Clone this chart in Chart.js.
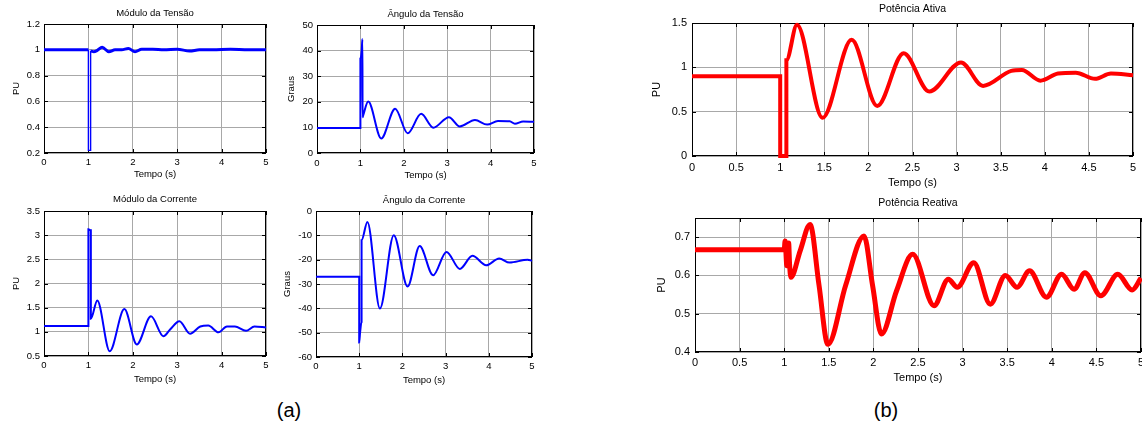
<!DOCTYPE html>
<html>
<head>
<meta charset="utf-8">
<script src="https://cdn.jsdelivr.net/npm/chart.js@4/dist/chart.umd.min.js"></script>
<style>
  html, body { margin:0; padding:0; background:#fff; overflow:hidden; }
  body { width:1142px; height:425px; position:relative; font-family:"Liberation Sans", Arial, sans-serif; }
  .caixa { position:absolute; }
  .rotulo { position:absolute; font-size:20px; color:#000; transform:translate(-50%,-50%); }
</style>
</head>
<body>
<div class="rotulo" style="left:289px;top:410px">(a)</div>
<div class="rotulo" style="left:886px;top:410px">(b)</div>
<script>
// ticks
const ticksXa = [0, 1, 2, 3, 4, 5];
const ticksXb = [0, 0.5, 1, 1.5, 2, 2.5, 3, 3.5, 4, 4.5, 5];
const ticksTensaoMod = [0.2, 0.4, 0.6, 0.8, 1, 1.2];
const ticksTensaoAng = [0, 10, 20, 30, 40, 50];
const ticksCorrenteMod = [0.5, 1, 1.5, 2, 2.5, 3, 3.5];
const ticksCorrenteAng = [-60, -50, -40, -30, -20, -10, 0];
const ticksAtiva = [0, 0.5, 1, 1.5];
const ticksReativa = [0.4, 0.5, 0.6, 0.7];

// dados (tempo em s)
const tTensaoMod = [0, 1.0, 1.0, 1.05, 1.05, 1.12, 1.2, 1.31, 1.46, 1.6, 1.75, 1.9, 2.05, 2.2, 2.45, 2.7, 3.0, 3.28, 3.5, 3.8, 4.2, 4.6, 5.0];
const vTensaoMod = [1.0, 1.0, 0.22, 0.22, 0.99, 0.985, 0.995, 1.02, 0.985, 1.0, 1.0, 1.01, 0.985, 1.005, 1.005, 1.0, 1.005, 0.99, 1.0, 1.0, 1.005, 1.0, 1.0];

const tTensaoAng = [0, 1.0, 1.0, 1.03, 1.046, 1.05, 1.06, 1.18, 1.48, 1.8, 2.09, 2.4, 2.68, 3.04, 3.29, 3.64, 3.92, 4.17, 4.44, 4.56, 4.75, 5.0];
const vTensaoAng = [9.8, 9.8, 36.8, 40, 44.5, 14, 14.5, 20.1, 5.7, 17.3, 7.7, 15.3, 9.9, 14, 10.4, 12.9, 11.1, 12.5, 12.4, 11.4, 12.3, 12.2];

const tCorrenteMod = [0, 1.0, 1.0, 1.055, 1.055, 1.2, 1.48, 1.81, 2.09, 2.41, 2.69, 2.84, 3.05, 3.29, 3.52, 3.7, 3.93, 4.12, 4.3, 4.55, 4.74, 5.0];
const vCorrenteMod = [1.12, 1.12, 3.12, 3.1, 1.27, 1.65, 0.6, 1.47, 0.74, 1.32, 0.91, 1.05, 1.22, 0.96, 1.11, 1.13, 0.99, 1.11, 1.11, 1.02, 1.11, 1.09];

const tCorrenteAng = [0, 1.0, 1.0, 1.02, 1.055, 1.055, 1.19, 1.48, 1.8, 2.12, 2.4, 2.71, 3.02, 3.33, 3.62, 3.94, 4.24, 4.48, 4.9, 5.0];
const vCorrenteAng = [-27, -27, -54, -50, -45.5, -12, -4.5, -40.1, -10, -31, -14.4, -26.4, -16.8, -23.8, -18.4, -22.3, -19.5, -21.2, -20, -20.5];

const tAtiva = [0, 1.0, 1.0, 1.07, 1.07, 1.19, 1.48, 1.81, 2.1, 2.4, 2.69, 3.05, 3.3, 3.62, 3.74, 3.95, 4.15, 4.35, 4.57, 4.75, 5.0];
const vAtiva = [0.9, 0.9, 0, 0, 1.08, 1.48, 0.43, 1.31, 0.565, 1.16, 0.727, 1.055, 0.79, 0.96, 0.97, 0.85, 0.93, 0.94, 0.87, 0.93, 0.91];

const tReativa = [0, 1.0, 1.01, 1.03, 1.05, 1.06, 1.075, 1.18, 1.29, 1.39, 1.49, 1.69, 1.895, 1.99, 2.09, 2.26, 2.44, 2.68, 2.84, 2.94, 3.125, 3.31, 3.48, 3.61, 3.75, 3.94, 4.11, 4.25, 4.37, 4.55, 4.74, 4.9, 5.0];
const vReativa = [0.667, 0.667, 0.69, 0.625, 0.685, 0.63, 0.595, 0.665, 0.733, 0.575, 0.42, 0.575, 0.703, 0.575, 0.447, 0.56, 0.655, 0.521, 0.59, 0.569, 0.633, 0.525, 0.6, 0.569, 0.612, 0.543, 0.603, 0.564, 0.607, 0.547, 0.603, 0.562, 0.593];

const FONTE = '"Liberation Sans", Arial, sans-serif';
const COR_GRADE = '#a8a8a8';

// caixa preta em volta + tracinhos para dentro (estilo matlab)
const moldura = {
  id: 'moldura',
  beforeDatasetsDraw(chart) {
    const { ctx, chartArea: a, scales } = chart;
    ctx.save();
    ctx.strokeStyle = '#000';
    ctx.lineWidth = 1;
    ctx.strokeRect(Math.round(a.left) + 0.5, Math.round(a.top) + 0.5, Math.round(a.width) - 1, Math.round(a.height) - 1);
    ctx.beginPath();
    scales.x.ticks.forEach(t => {
      const px = Math.round(scales.x.getPixelForValue(t.value)) + 0.5;
      ctx.moveTo(px, a.top); ctx.lineTo(px, a.top + 4);
      ctx.moveTo(px, a.bottom); ctx.lineTo(px, a.bottom - 4);
    });
    scales.y.ticks.forEach(t => {
      const py = Math.round(scales.y.getPixelForValue(t.value)) + 0.5;
      ctx.moveTo(a.left, py); ctx.lineTo(a.left + 4, py);
      ctx.moveTo(a.right, py); ctx.lineTo(a.right - 4, py);
    });
    ctx.stroke();
    ctx.restore();
  }
};

const fmt = v => String(Math.round(v * 100) / 100);

function fazGrafico(g) {
  const AW = 42, HX = 36, RP = 12, TT = 22;
  const [L, T, R, B] = g.area;
  const div = document.createElement('div');
  div.className = 'caixa';
  div.style.left = (L - AW) + 'px';
  div.style.top = (T - TT) + 'px';
  div.style.width = (R - L + AW + RP) + 'px';
  div.style.height = (B - T + TT + HX) + 'px';
  const cv = document.createElement('canvas');
  div.appendChild(cv);
  document.body.appendChild(div);

  const lhTit = g.fTitulo * 1.2, lhEixo = g.fEixo * 1.2, lhTick = g.fTick * 1.2;
  const ptTit = g.tituloY - (T - TT) - lhTit / 2;

  return new Chart(cv, {
    type: 'line',
    data: {
      datasets: [{
        data: g.tempo.map((t, i) => ({ x: t, y: g.valores[i] })),
        borderColor: g.cor,
        borderWidth: g.espessura,
        pointRadius: 0,
        fill: false,
        tension: 0.4,
        cubicInterpolationMode: 'monotone',
        clip: 5,
        // trechos do salto mais finos
        segment: {
          borderWidth: c => (g.fino && c.p1.parsed.x - c.p0.parsed.x < 0.06 ? g.fino : undefined)
        }
      }]
    },
    options: {
      responsive: true,
      maintainAspectRatio: false,
      animation: false,
      layout: { padding: { left: 0, top: 0, right: RP, bottom: 0 } },
      plugins: {
        legend: { display: false },
        tooltip: { enabled: false },
        title: {
          display: true, text: g.titulo, fullSize: false, color: '#000',
          font: { size: g.fTitulo, family: FONTE, weight: 'normal' },
          padding: { top: ptTit, bottom: TT - lhTit - ptTit }
        }
      },
      scales: {
        x: {
          type: 'linear', min: 0, max: 5,
          afterBuildTicks: s => { s.ticks = g.ticksX.map(v => ({ value: v })); },
          afterFit: s => { s.height = HX; },
          grid: { color: COR_GRADE, drawTicks: false },
          border: { display: false },
          ticks: { color: '#000', font: { size: g.fTick, family: FONTE }, padding: g.xTickY - lhTick / 2, autoSkip: false, maxRotation: 0, callback: fmt },
          title: { display: true, text: 'Tempo (s)', color: '#000', font: { size: g.fEixo, family: FONTE },
                   padding: { top: 0, bottom: HX - g.xTituloY - lhEixo / 2 } }
        },
        y: {
          min: g.ticksY[0], max: g.yMax,
          afterBuildTicks: s => { s.ticks = g.ticksY.map(v => ({ value: v })); },
          afterFit: s => { s.width = AW; },
          grid: { color: COR_GRADE, drawTicks: false },
          border: { display: false },
          ticks: { color: '#000', font: { size: g.fTick, family: FONTE }, padding: g.yTickPad, callback: fmt },
          title: { display: true, text: g.eixoY, color: '#000', font: { size: g.fEixo, family: FONTE },
                   padding: { top: AW - g.yTituloX - lhEixo / 2, bottom: 0 } }
        }
      }
    },
    plugins: [moldura]
  });
}

const azul = '#0000ff', vermelho = '#ff0000';
const baseA = { fTitulo: 9.5, fEixo: 9.5, fTick: 9.5, yTickPad: 4, ticksX: ticksXa, cor: azul };
const baseB = { fTitulo: 10.5, fEixo: 11, fTick: 11, yTickPad: 5, ticksX: ticksXb, cor: vermelho };

fazGrafico({ ...baseA, area: [44, 24, 266, 153], titulo: 'Módulo da Tensão', eixoY: 'PU', tituloY: 13, xTickY: 9, xTituloY: 21, yTituloX: 28,
  ticksY: ticksTensaoMod, yMax: 1.2, tempo: tTensaoMod, valores: vTensaoMod, espessura: 3, fino: 1.4 });
fazGrafico({ ...baseA, area: [317, 25, 534, 153], titulo: 'Ângulo da Tensão', eixoY: 'Graus', tituloY: 14, xTickY: 10, xTituloY: 22, yTituloX: 26,
  ticksY: ticksTensaoAng, yMax: 50, tempo: tTensaoAng, valores: vTensaoAng, espessura: 2 });
fazGrafico({ ...baseA, area: [44, 211, 266, 356], titulo: 'Módulo da Corrente', eixoY: 'PU', tituloY: 199, xTickY: 9, xTituloY: 23, yTituloX: 28,
  ticksY: ticksCorrenteMod, yMax: 3.5, tempo: tCorrenteMod, valores: vCorrenteMod, espessura: 2 });
fazGrafico({ ...baseA, area: [316, 211, 532, 357], titulo: 'Ângulo da Corrente', eixoY: 'Graus', tituloY: 200, xTickY: 9, xTituloY: 23, yTituloX: 29,
  ticksY: ticksCorrenteAng, yMax: 0, tempo: tCorrenteAng, valores: vCorrenteAng, espessura: 2 });
fazGrafico({ ...baseB, area: [692, 23, 1133, 156], titulo: 'Potência Ativa', eixoY: 'PU', tituloY: 9, xTickY: 12, xTituloY: 27, yTituloX: 35,
  ticksY: ticksAtiva, yMax: 1.5, tempo: tAtiva, valores: vAtiva, espessura: 4 });
fazGrafico({ ...baseB, area: [695, 218, 1141, 352], titulo: 'Potência Reativa', eixoY: 'PU', tituloY: 203, xTickY: 11, xTituloY: 26, yTituloX: 33,
  ticksY: ticksReativa, yMax: 0.75, tempo: tReativa, valores: vReativa, espessura: 5 });
</script>
</body>
</html>
